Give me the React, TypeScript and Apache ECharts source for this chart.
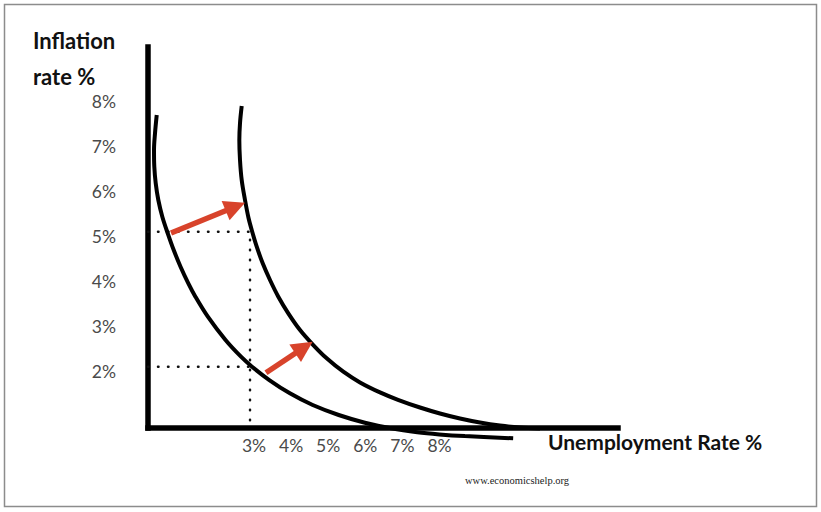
import React, { useEffect, useRef } from 'react';
import * as echarts from 'echarts';

// Tick labels (axis values, shown as "n%")
const yTickValues = [2, 3, 4, 5, 6, 7, 8];
const xTickValues = [3, 4, 5, 6, 7, 8];

// Original Phillips curve (unemployment %, inflation %)
const curve1X = [0.485, 0.439, 0.412, 0.42, 0.458, 0.528, 0.636, 0.782, 0.943, 1.127, 1.337, 1.528, 1.863, 2.34, 2.757, 3.054, 3.52, 4.075, 4.69, 5.391, 6.097, 6.806, 7.509, 8.102, 8.79, 10.094];
const curve1Y = [7.593, 7.187, 6.816, 6.444, 6.076, 5.704, 5.333, 4.964, 4.593, 4.222, 3.853, 3.556, 3.111, 2.593, 2.222, 2.0, 1.704, 1.409, 1.149, 0.927, 0.756, 0.631, 0.544, 0.496, 0.458, 0.409];

// Shifted Phillips curve
const curve2X = [2.776, 2.73, 2.712, 2.73, 2.776, 2.865, 2.96, 3.046, 3.181, 3.342, 3.539, 3.763, 4.032, 4.348, 4.706, 5.067, 5.515, 5.965, 6.504, 6.989, 7.582, 8.121, 8.66, 9.199, 9.739, 10.278, 10.817];
const curve2Y = [7.793, 7.409, 7.038, 6.593, 6.149, 5.704, 5.304, 5.038, 4.667, 4.298, 3.927, 3.556, 3.187, 2.816, 2.482, 2.187, 1.889, 1.651, 1.429, 1.264, 1.093, 0.96, 0.849, 0.76, 0.693, 0.649, 0.627];

// Shift arrows: [fromX, fromY, toX, toY]
const arrow1 = [0.871, 4.971, 2.604, 5.556];
const arrow2 = [3.431, 1.867, 4.453, 2.427];

// Reference levels (dotted guides)
const guideUnemployment = 3;
const guideInflationHigh = 5;
const guideInflationLow = 2;

const X_MIN = 0.25;
const X_MAX = 12.92;
const Y_MIN = 0.638;
const Y_MAX = 9.104;

const RED = '#d8432b';

export default function App() {
  const ref = useRef<HTMLDivElement>(null);

  useEffect(() => {
    if (!ref.current) return;
    const chart = echarts.init(ref.current, undefined, { renderer: 'svg' });
    const zip = (xs: number[], ys: number[]) => xs.map((x, i) => [x, ys[i]]);
    const dotted = {
      type: [0.5, 9.5] as any,
      width: 2.5,
      color: '#111',
      cap: 'round' as const,
    };
    chart.setOption({
      animation: false,
      backgroundColor: '#ffffff',
      grid: { left: 148, right: 203, top: 47, bottom: 84, outerBoundsMode: 'none' },
      title: [
        {
          text: 'Inflation\nrate %',
          left: 33,
          top: 22,
          padding: 0,
          textStyle: {
            fontFamily: 'Lato',
            fontWeight: 'bold',
            fontSize: 22,
            lineHeight: 36,
            color: '#111',
          },
        },
        {
          text: 'Unemployment Rate %',
          left: 548,
          top: 431,
          padding: 0,
          textStyle: {
            fontFamily: 'Lato',
            fontWeight: 'bold',
            fontSize: 21,
            lineHeight: 21,
            color: '#111',
          },
        },
        {
          text: 'www.economicshelp.org',
          left: 465,
          top: 474,
          padding: 0,
          textStyle: {
            fontFamily: 'Liberation Serif',
            fontWeight: 'normal',
            fontSize: 10.5,
            lineHeight: 12,
            color: '#222',
          },
        },
      ],
      graphic: [
        {
          type: 'rect',
          shape: { x: 4.5, y: 4.5, width: 812, height: 502 },
          style: { fill: 'none', stroke: '#8c8c8c', lineWidth: 1.5 },
          z: -10,
        },
      ],
      xAxis: {
        type: 'value',
        min: X_MIN,
        max: X_MAX,
        splitLine: { show: false },
        axisTick: { show: false },
        axisLine: { onZero: false, lineStyle: { color: '#000', width: 5.5, cap: 'square' } },
        axisLabel: {
          customValues: xTickValues,
          formatter: (v: number) => `{t|${v}%}`,
          margin: 8,
          rich: {
            t: {
              padding: [0, 0, 0, 8],
              fontFamily: 'Lato',
              fontSize: 17.5,
              color: '#4a4a4a',
            },
          },
          fontFamily: 'Lato',
          fontSize: 17.5,
          color: '#4a4a4a',
        },
      },
      yAxis: {
        type: 'value',
        min: Y_MIN,
        max: Y_MAX,
        splitLine: { show: false },
        axisTick: { show: false },
        axisLine: { onZero: false, lineStyle: { color: '#000', width: 5.5, cap: 'square' } },
        axisLabel: {
          customValues: yTickValues,
          formatter: (v: number) => `${v}%`,
          margin: 32,
          verticalAlign: 'top',
          lineHeight: 9,
          fontFamily: 'Lato',
          fontSize: 17.5,
          color: '#4a4a4a',
        },
      },
      series: [
        {
          name: 'guide high',
          type: 'line',
          data: [
            [X_MIN, guideInflationHigh],
            [guideUnemployment, guideInflationHigh],
            [guideUnemployment, Y_MIN],
          ],
          symbol: 'none',
          lineStyle: dotted,
          z: 1,
        },
        {
          name: 'guide low',
          type: 'line',
          data: [
            [X_MIN, guideInflationLow],
            [guideUnemployment, guideInflationLow],
          ],
          symbol: 'none',
          lineStyle: dotted,
          z: 1,
        },
        {
          name: 'Phillips curve 1',
          type: 'line',
          data: zip(curve1X, curve1Y),
          symbol: 'none',
          smooth: 0.35,
          clip: false,
          lineStyle: { color: '#000', width: 4 },
          z: 3,
        },
        {
          name: 'Phillips curve 2',
          type: 'line',
          data: zip(curve2X, curve2Y),
          symbol: 'none',
          smooth: 0.35,
          clip: false,
          lineStyle: { color: '#000', width: 4 },
          z: 3,
        },
        {
          name: 'shift',
          type: 'lines',
          coordinateSystem: 'cartesian2d',
          symbol: ['none', 'triangle'],
          symbolSize: [18, 21],
          lineStyle: { color: RED, width: 5.5, opacity: 1, curveness: 0 },
          itemStyle: { color: RED },
          data: [
            { coords: [[arrow1[0], arrow1[1]], [arrow1[2], arrow1[3]]] },
            { coords: [[arrow2[0], arrow2[1]], [arrow2[2], arrow2[3]]] },
          ],
          z: 4,
        },
      ],
    });
    return () => chart.dispose();
  }, []);

  return (
    <div
      ref={ref}
      style={{ position: 'absolute', left: 0, top: 0, width: 821, height: 512, background: '#fff' }}
    />
  );
}
